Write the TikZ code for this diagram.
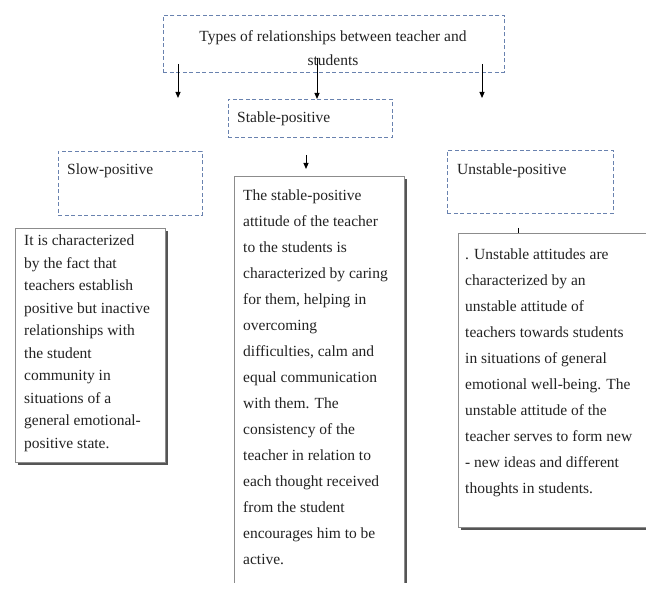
\documentclass[tikz,border=0pt]{standalone}
\usepackage{fontspec}
\setmainfont{Liberation Serif}
\usetikzlibrary{arrows.meta,shadows}
\definecolor{dashcol}{RGB}{105,130,175}
\definecolor{txtcol}{RGB}{35,35,35}
\definecolor{boxcol}{RGB}{140,140,140}
\definecolor{shadcol}{RGB}{85,85,85}
\newcommand{\bodyfont}{\fontsize{15.5}{26}\selectfont}
\newcommand{\leftfont}{\fontsize{15.5}{22.5}\selectfont}
\begin{document}
\begin{tikzpicture}[x=1pt,y=-1pt,
  dbox/.style={draw=dashcol, dash pattern=on 4pt off 2.5pt, line width=0.9pt, fill=white, rectangle, inner sep=0pt, anchor=north west},
  sbox/.style={draw=boxcol, line width=0.9pt, fill=white, rectangle, inner sep=0pt, anchor=north west,
    drop shadow={shadow xshift=3pt, shadow yshift=-3pt, fill=shadcol, opacity=1}},
  txt/.style={inner sep=0pt, anchor=base west, text=txtcol},
  arr/.style={-{Triangle[length=6pt,width=5pt]}, line width=1pt, draw=black}]
\useasboundingbox (0,0) rectangle (646,593);
\fill[white] (0,0) rectangle (646,593);

% top box
\node[dbox, minimum width=341pt, minimum height=57pt] (top) at (163,15) {};
\node[inner sep=0pt, anchor=base, text=txtcol, font=\bodyfont] (toptxt) at (333,42)
  {\parbox[t]{340pt}{\centering\fontsize{15.5}{24}\selectfont Types of relationships between teacher and\\students}};

% arrows from top box
\coordinate (a1s) at (178,64);
\coordinate (a1e) at (178,98);
\coordinate (a2s) at (317,58);
\coordinate (a3s) at (482,64);
\coordinate (a3e) at (482,98);

% second level boxes
\node[dbox, minimum width=164pt, minimum height=38pt] (stable) at (228,99) {};
\node[txt, font=\bodyfont] (stabletxt) at (237,123) {Stable-positive};
\node[dbox, minimum width=144pt, minimum height=64pt] (slow) at (58,151) {};
\node[txt, font=\bodyfont] (slowtxt) at (67,175) {Slow-positive};
\node[dbox, minimum width=166pt, minimum height=63pt] (unstable) at (447,150) {};
\node[txt, font=\bodyfont] (unstabletxt) at (457,175) {Unstable-positive};

\draw[arr] (a1s) -- (a1e);
\draw[arr] (a2s) -- (stable.north -| a2s);
\draw[arr] (a3s) -- (a3e);

% small arrow above middle box
\coordinate (b1s) at (306,155);
\coordinate (b1e) at (306,169);
\draw[arr] (b1s) -- (b1e);

% tick above right box
\coordinate (c1s) at (518,228);
\coordinate (c1e) at (518,236);
\draw[line width=1pt] (c1s) -- (c1e);

% left description box
\node[sbox, minimum width=150pt, minimum height=234pt] (leftbox) at (15,228) {};
\node[txt, font=\leftfont] (lefttxt) at (24,246) {\parbox[t]{140pt}{\raggedright
It is characterized\\
by the fact that\\
teachers establish\\
positive but inactive\\
relationships with\\
the student\\
community in\\
situations of a\\
general emotional-\\
positive state.}};

% middle description box (cut by the page edge)
\begin{scope}
\clip (0,0) rectangle (646,583);
\node[sbox, minimum width=170pt, minimum height=430pt] (midbox) at (234,176) {};
\end{scope}
\node[txt, font=\bodyfont] (midtxt) at (243,201) {\parbox[t]{160pt}{\raggedright
The stable-positive\\
attitude of the teacher\\
to the students is\\
characterized by caring\\
for them, helping in\\
overcoming\\
difficulties, calm and\\
equal communication\\
with them. The\\
consistency of the\\
teacher in relation to\\
each thought received\\
from the student\\
encourages him to be\\
active.}};

% right description box (cut by the page edge)
\node[sbox, minimum width=210pt, minimum height=294pt] (rightbox) at (458,233) {};
\node[txt, font=\bodyfont] (righttxt) at (465,260) {\parbox[t]{180pt}{\raggedright
. Unstable attitudes are\\
characterized by an\\
unstable attitude of\\
teachers towards students\\
in situations of general\\
emotional well-being. The\\
unstable attitude of the\\
teacher serves to form new\\
- new ideas and different\\
thoughts in students.}};
\end{tikzpicture}
\end{document}
